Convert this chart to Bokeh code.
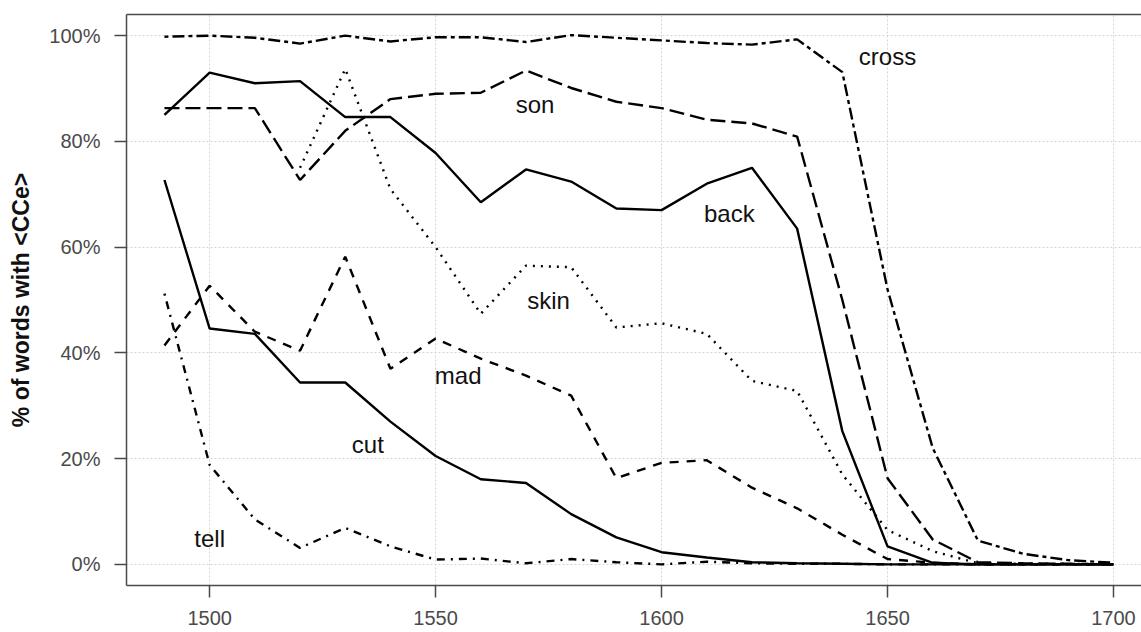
import numpy as np
from bokeh.plotting import figure
from bokeh.models import Range1d, FixedTicker, LinearAxis
from bokeh.core.properties import value
from bokeh.embed import file_html
from bokeh.resources import INLINE

nan = np.nan
years = [1490, 1500, 1510, 1520, 1530, 1540, 1550, 1560, 1570, 1580, 1590,
         1600, 1610, 1620, 1630, 1640, 1650, 1660, 1670, 1680, 1690, 1700]

cross = [99.8, 100, 99.6, 98.5, 100, 98.9, 99.7, 99.7, 98.8, 100.1, 99.6,
         99.1, 98.6, 98.3, 99.3, 93.1, 52, 22, 4.5, 2, 0.8, 0.3]
son = [86.3, 86.3, 86.3, 72.7, 82, 88, 89, 89.2, 93.4, 90.1, 87.5,
       86.3, 84.1, 83.4, 80.9, 50, 16.3, 4.7, 0.4, 0.2, 0.1, 0]
back = [85, 93, 91, 91.4, 84.6, 84.6, 77.8, 68.5, 74.7, 72.4, 67.3,
        67, 72, 75, 63.5, 25.2, 3.4, 0.3, 0, 0, 0, 0]
skin = [nan, nan, nan, 75, 93.7, 71, 60, 47.4, 56.5, 56.2, 44.8,
        45.6, 43.6, 34.7, 32.8, 17, 6.5, 2.5, 0.2, 0.1, 0.1, 0]
mad = [41.4, 52.7, 44, 40.4, 58.2, 37, 42.7, 38.9, 35.7, 31.9, 16.3,
       19.2, 19.7, 14.5, 10.6, 5.6, 1, 0.3, 0, 0, 0, 0]
cut = [72.7, 44.6, 43.6, 34.4, 34.4, 27, 20.5, 16.1, 15.4, 9.5, 5.1,
       2.3, 1.3, 0.4, 0.2, 0.1, 0, 0, 0, 0, 0, 0]
tell = [51.2, 18.8, 8.5, 3.1, 6.9, 3.4, 0.9, 1.1, 0.2, 1.0, 0.4,
        0, 0.5, 0.2, 0.1, 0.1, 0, 0, 0, 0, 0, 0]

label_text = ["cross", "son", "back", "skin", "mad", "cut", "tell"]
label_x = [1650, 1572, 1615, 1575, 1555, 1535, 1500]
label_y = [96, 87, 66.4, 50, 35.7, 22.7, 4.8]

xticks = [1500, 1550, 1600, 1650, 1700]
yticks = [0, 20, 40, 60, 80, 100]
ytick_labels = ["0%", "20%", "40%", "60%", "80%", "100%"]

FONT = "Liberation Sans"
AX = "#4a4a4a"

p = figure(width=1141, height=632,
           x_range=Range1d(1481.6, 1706.2), y_range=Range1d(-4, 104),
           output_backend="svg", toolbar_location=None,
           min_border_left=126, min_border_right=0,
           min_border_top=14, min_border_bottom=47)
p.outline_line_color = None
p.background_fill_color = "white"
p.border_fill_color = "white"

for ax in (p.xaxis, p.yaxis):
    ax.axis_line_color = AX
    ax.axis_line_width = 1.5
    ax.major_tick_line_color = AX
    ax.major_tick_line_width = 1.5
    ax.major_tick_in = 0
    ax.major_tick_out = 12
    ax.minor_tick_line_color = None
    ax.major_label_text_font = FONT
    ax.major_label_text_font_size = "20px"
    ax.major_label_text_color = AX

p.xaxis.ticker = FixedTicker(ticks=xticks)
p.xaxis.major_label_standoff = 13
p.yaxis.ticker = FixedTicker(ticks=yticks)
p.yaxis.major_label_overrides = {t: l for t, l in zip(yticks, ytick_labels)}
p.yaxis.major_label_standoff = 14
p.yaxis.axis_label = "% of words with <CCe>"
p.yaxis.axis_label_text_font = FONT
p.yaxis.axis_label_text_font_style = "bold"
p.yaxis.axis_label_text_font_size = "23px"
p.yaxis.axis_label_text_color = "#111111"
p.yaxis.axis_label_standoff = 12

# top border of the box
top = LinearAxis(ticker=FixedTicker(ticks=[]), axis_line_color=AX,
                 axis_line_width=1.5, major_tick_line_color=None,
                 minor_tick_line_color=None, major_label_text_font_size="0px",
                 major_label_standoff=0)
p.add_layout(top, "above")

p.xgrid.ticker = FixedTicker(ticks=xticks)
p.ygrid.ticker = FixedTicker(ticks=yticks)
for g in (p.xgrid, p.ygrid):
    g.grid_line_color = "#d4d4d4"
    g.grid_line_dash = "2 2"
    g.grid_line_width = 1

LW = 2.4
p.line(years, cross, line_color="black", line_width=LW, line_dash="4 4 12 4")
p.line(years, son, line_color="black", line_width=LW, line_dash="15 6")
p.line(years, back, line_color="black", line_width=LW)
p.line(years, skin, line_color="black", line_width=LW, line_dash="2 6")
p.line(years, mad, line_color="black", line_width=LW, line_dash="9 8")
p.line(years, cut, line_color="black", line_width=LW)
p.line(years, tell, line_color="black", line_width=LW, line_dash="2 6 8 6")

p.text(x=label_x, y=label_y, text=label_text, text_font=value(FONT),
       text_font_size="24px", text_align="center", text_baseline="middle",
       text_color="#111111")

open("out.html", "w").write(file_html(p, INLINE))
